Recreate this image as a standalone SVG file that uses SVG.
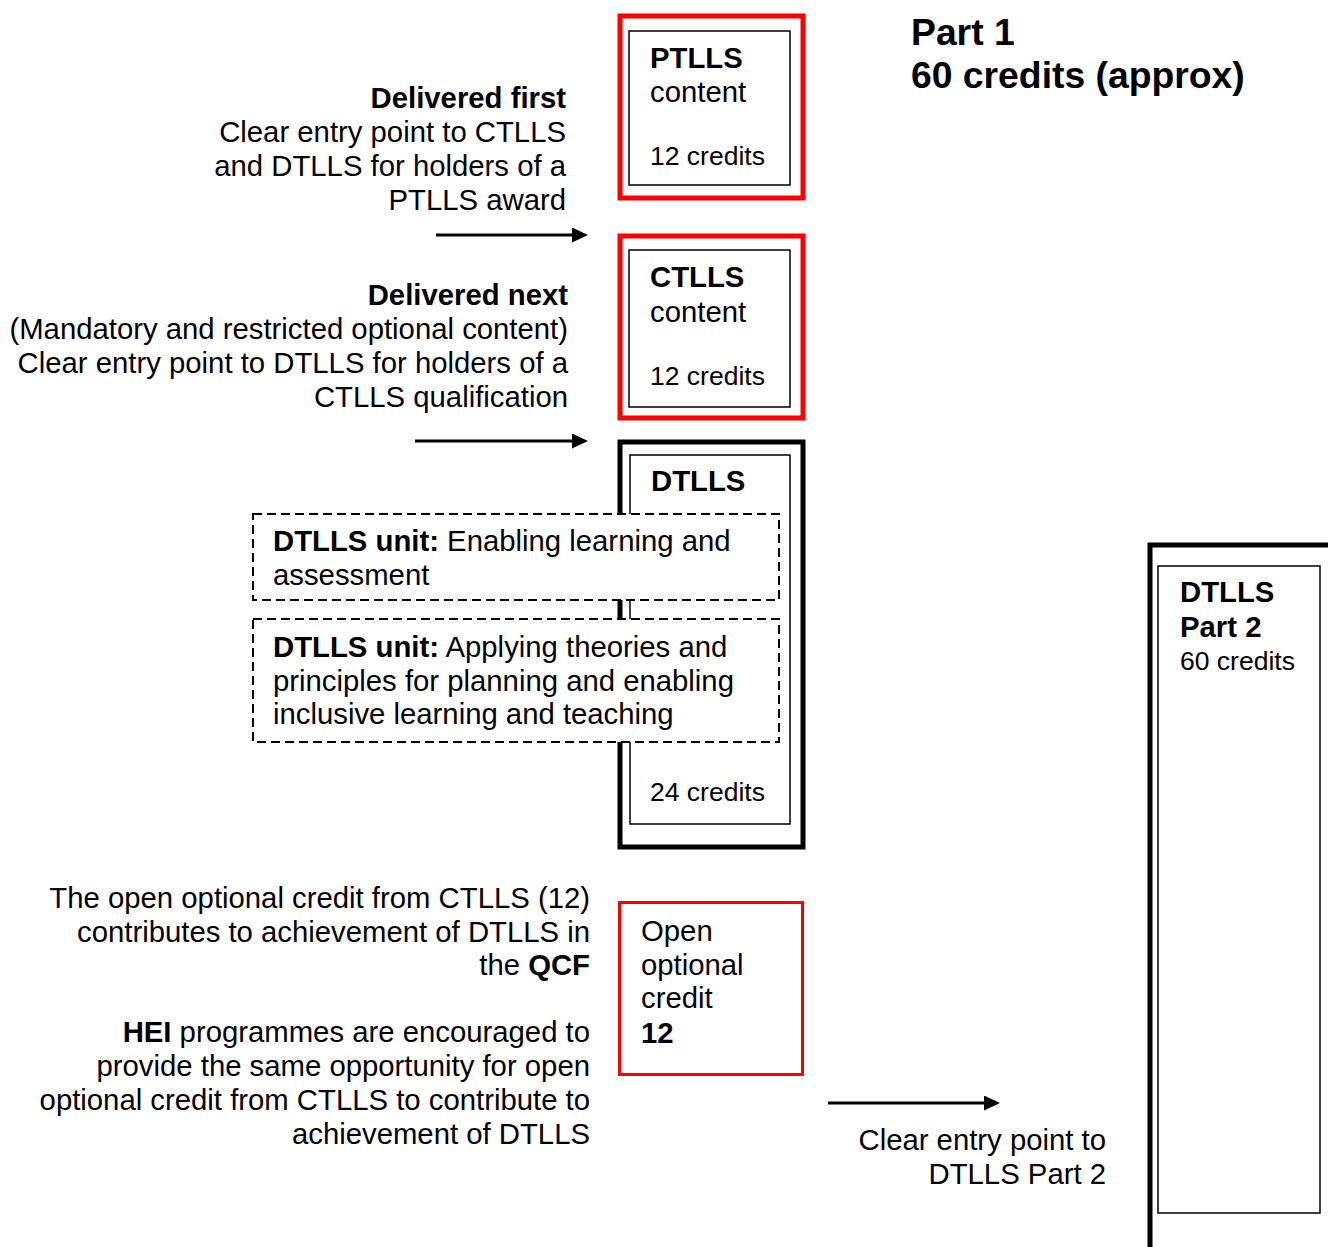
<svg xmlns="http://www.w3.org/2000/svg" width="1328" height="1247" viewBox="0 0 1328 1247">
<defs>
<style>
text{font-family:"Liberation Sans",Arial,sans-serif;font-size:29.3px;fill:#000}
.b{font-weight:bold}
.r{text-anchor:end}
.cr{font-size:26.5px}
.red{fill:#fff;stroke:#f00;stroke-width:5}
.blk{fill:#fff;stroke:#000;stroke-width:5}
.in{fill:none;stroke:#000;stroke-width:1.5}
.dash{fill:#fff;stroke:#000;stroke-width:2;stroke-dasharray:9 5}
.arr{stroke:#000;stroke-width:3;fill:none}
</style>
<marker id="ah" markerWidth="16" markerHeight="15" refX="2" refY="7.5" orient="auto" markerUnits="userSpaceOnUse" viewBox="0 0 16 15">
<path d="M0,0 L16,7.5 L0,15 z" fill="#000"/>
</marker>
</defs>
<rect width="1328" height="1247" fill="#fff"/>

<g id="title">
<text x="911" y="45" class="b" style="font-size:37.3px">Part 1</text>
<text x="911" y="88" class="b" style="font-size:37.3px">60 credits (approx)</text>
</g>

<g id="ptlls">
<rect x="620" y="16" width="183" height="182" class="red"/>
<rect x="629" y="31" width="161" height="154" class="in"/>
<text x="650" y="68" class="b">PTLLS</text>
<text x="650" y="102">content</text>
<text x="650" y="165" class="cr">12 credits</text>
</g>

<g id="ctlls">
<rect x="620" y="236" width="183" height="182" class="red"/>
<rect x="629" y="250" width="161" height="157" class="in"/>
<text x="650" y="287" class="b">CTLLS</text>
<text x="650" y="322">content</text>
<text x="650" y="385" class="cr">12 credits</text>
</g>

<g id="dtlls">
<rect x="620" y="442" width="183" height="405" class="blk"/>
<rect x="630" y="455" width="160" height="369" class="in"/>
<text x="651" y="491" class="b">DTLLS</text>
<text x="650" y="801" class="cr">24 credits</text>
</g>

<g id="unit1">
<rect x="253" y="514" width="526" height="86" class="dash"/>
<text x="273" y="551"><tspan class="b">DTLLS unit:</tspan> Enabling learning and</text>
<text x="273" y="585">assessment</text>
</g>

<g id="unit2">
<rect x="253" y="619" width="526" height="123" class="dash"/>
<text x="273" y="657"><tspan class="b">DTLLS unit:</tspan> Applying theories and</text>
<text x="273" y="691">principles for planning and enabling</text>
<text x="273" y="724">inclusive learning and teaching</text>
</g>

<g id="open">
<rect x="619.5" y="902.5" width="183" height="172" fill="#fff" stroke="#f00" stroke-width="3"/>
<text x="641" y="941">Open</text>
<text x="641" y="975">optional</text>
<text x="641" y="1008">credit</text>
<text x="641" y="1043" class="b">12</text>
</g>

<g id="part2">
<rect x="1150" y="545" width="200" height="720" class="blk"/>
<rect x="1158" y="566" width="162" height="647" class="in"/>
<text x="1180" y="602" class="b">DTLLS</text>
<text x="1180" y="637" class="b">Part 2</text>
<text x="1180" y="670" class="cr">60 credits</text>
</g>

<g id="labels">
<text x="566" y="108" class="r b">Delivered first</text>
<text x="566" y="142" class="r">Clear entry point to CTLLS</text>
<text x="566" y="176" class="r">and DTLLS for holders of a</text>
<text x="566" y="210" class="r">PTLLS award</text>

<text x="568" y="305" class="r b">Delivered next</text>
<text x="568" y="339" class="r">(Mandatory and restricted optional content)</text>
<text x="568" y="373" class="r">Clear entry point to DTLLS for holders of a</text>
<text x="568" y="407" class="r">CTLLS qualification</text>

<text x="590" y="908" class="r">The open optional credit from CTLLS (12)</text>
<text x="590" y="942" class="r">contributes to achievement of DTLLS in</text>
<text x="590" y="975" class="r">the <tspan class="b">QCF</tspan></text>

<text x="590" y="1042" class="r"><tspan class="b">HEI</tspan> programmes are encouraged to</text>
<text x="590" y="1076" class="r">provide the same opportunity for open</text>
<text x="590" y="1110" class="r">optional credit from CTLLS to contribute to</text>
<text x="590" y="1144" class="r">achievement of DTLLS</text>

<text x="1106" y="1150" class="r">Clear entry point to</text>
<text x="1106" y="1184" class="r">DTLLS Part 2</text>
</g>

<g id="connectors">
<line x1="436" y1="235" x2="574" y2="235" class="arr" marker-end="url(#ah)"/>
<line x1="415" y1="441" x2="574" y2="441" class="arr" marker-end="url(#ah)"/>
<line x1="828" y1="1103" x2="986" y2="1103" class="arr" marker-end="url(#ah)"/>
</g>
</svg>
